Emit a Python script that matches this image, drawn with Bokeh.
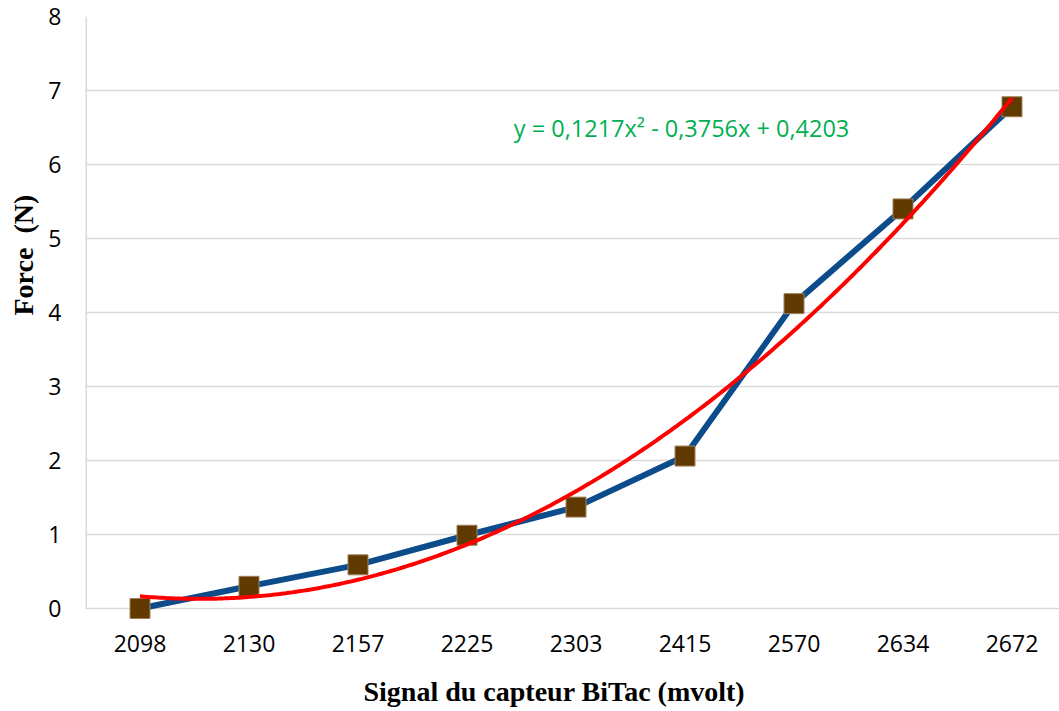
import numpy as np
from bokeh.plotting import figure
from bokeh.models import Range1d, FixedTicker, Label, ColumnDataSource, Title, LinearAxis
from bokeh.embed import file_html
from bokeh.resources import INLINE

# ---- data ----
signal_labels = ["2098", "2130", "2157", "2225", "2303", "2415", "2570", "2634", "2672"]
force_values = [0.0, 0.30, 0.59, 0.99, 1.37, 2.06, 4.12, 5.40, 6.78]
trend_coeffs = [0.1217, -0.3756, 0.4203]   # y = a x^2 + b x + c (x = category index)
equation_text = "y = 0,1217x\u00b2 - 0,3756x + 0,4203"
y_ticks = [0, 1, 2, 3, 4, 5, 6, 7, 8]
x_title = "Signal du capteur BiTac (mvolt)"
y_title = "Force\u00a0 (N)"

idx = list(range(1, len(signal_labels) + 1))
src = ColumnDataSource(dict(x=idx, y=force_values))

tx = np.linspace(idx[0], idx[-1], 300)
a, b, c = trend_coeffs
ty = a * tx ** 2 + b * tx + c

W, H = 1059, 711
BORDER_L, BORDER_T, BORDER_B = 85, 16, 92
PX_PER_X, PX_PER_Y = 109.0, 74.0
frame_w = W - BORDER_L
frame_h = H - BORDER_T - BORDER_B
y_top = y_ticks[-1]
y_bottom = y_top - frame_h / PX_PER_Y      # a little room below 0 so markers are not clipped
x_start = 0.5
x_end = x_start + frame_w / PX_PER_X

p = figure(width=W, height=H, output_backend="svg", toolbar_location=None,
           x_range=Range1d(x_start, x_end), y_range=Range1d(y_bottom, y_top),
           min_border_left=BORDER_L, min_border_right=0, min_border_top=BORDER_T,
           min_border_bottom=BORDER_B, background_fill_color="white",
           border_fill_color="white")
p.outline_line_color = None

GRID = "#D9D9D9"
TICK_FONT = "Open Sans"

# y axis
p.yaxis.ticker = FixedTicker(ticks=y_ticks)
p.yaxis.major_tick_line_color = None
p.yaxis.minor_tick_line_color = None
p.yaxis.axis_line_color = None
p.yaxis.major_label_text_font = TICK_FONT
p.yaxis.major_label_text_font_size = "23px"
p.yaxis.major_label_text_color = "#000000"
p.yaxis.major_label_standoff = 18

# x axis
p.xaxis.ticker = FixedTicker(ticks=idx)
p.xaxis.major_label_overrides = {i: lab for i, lab in zip(idx, signal_labels)}
p.xaxis.major_tick_line_color = None
p.xaxis.minor_tick_line_color = None
p.xaxis.axis_line_color = None
p.xaxis.major_label_text_font = TICK_FONT
p.xaxis.major_label_text_font_size = "23px"
p.xaxis.major_label_text_color = "#000000"
p.xaxis.major_label_standoff = 9

# invisible spacer between the tick labels and the x title
spacer = LinearAxis(ticker=FixedTicker(ticks=[idx[0]]), axis_line_color=None,
                    major_tick_line_color=None, minor_tick_line_color=None,
                    major_tick_out=19, minor_tick_out=0, major_tick_in=0,
                    minor_tick_in=0, major_label_standoff=0,
                    major_label_overrides={idx[0]: ""})
p.add_layout(spacer, "below")

p.xgrid.grid_line_color = None
p.ygrid.grid_line_color = GRID
p.ygrid.grid_line_width = 1.5

# left axis line, from 0 to the top of the value axis
p.segment(x0=[x_start], y0=[y_ticks[0]], x1=[x_start], y1=[y_top],
          line_color=GRID, line_width=3, level="underlay")

# series
p.line("x", "y", source=src, line_color="#0D4C8B", line_width=6, line_join="round")
p.scatter("x", "y", source=src, marker="square", size=20,
          fill_color="#603A00", line_color="#A08058", line_width=1)
p.line(tx, ty, line_color="#FF0000", line_width=4)

# equation
p.add_layout(Label(x=4.43, y=6.5, text=equation_text, text_color="#00B050",
                   text_font=TICK_FONT, text_font_size="23.5px",
                   text_align="left", text_baseline="middle"))

# axis titles
p.add_layout(Title(text=x_title, align="left", offset=278, standoff=0,
                   text_font="Liberation Serif", text_font_style="bold",
                   text_font_size="28px", text_color="#000000"), "below")
p.add_layout(Title(text=y_title, align="left", offset=304, standoff=10,
                   vertical_align="top",
                   text_font="Liberation Serif", text_font_style="bold",
                   text_font_size="28px", text_color="#000000"), "left")

open("out.html", "w").write(file_html(p, INLINE))
